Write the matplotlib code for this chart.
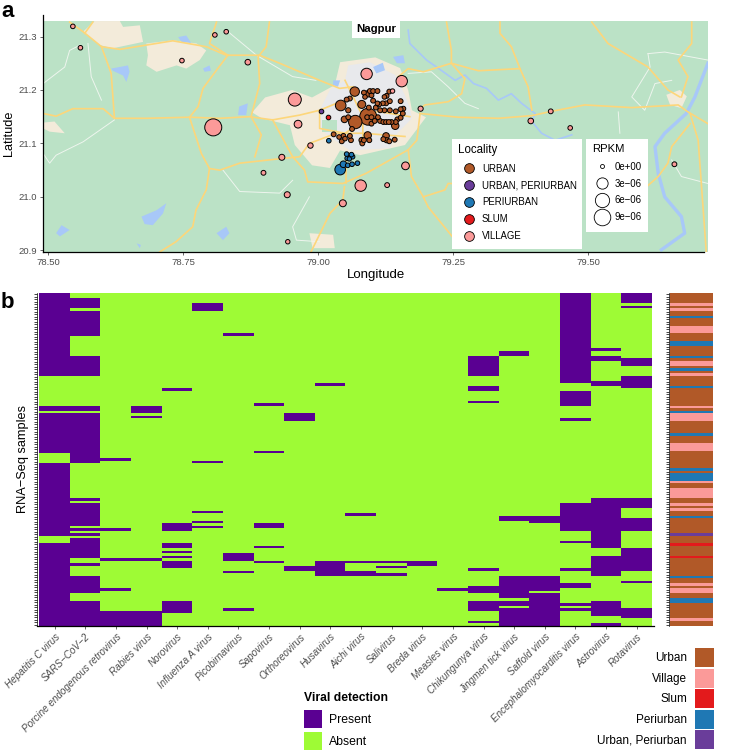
import numpy as np
import matplotlib
matplotlib.use("Agg")
import matplotlib.pyplot as plt
from matplotlib.colors import ListedColormap
from matplotlib.lines import Line2D
from matplotlib.patches import Patch, Polygon, Rectangle

plt.rcParams['font.family'] = ['Liberation Sans', 'DejaVu Sans']

# ---------------- panel a : samples ----------------
urban_lon = [79.093, 79.069, 79.042, 79.068, 79.081, 79.143, 79.092, 79.126, 79.049, 79.093,
             79.085, 79.096, 79.102, 79.110, 79.099, 79.059, 79.053, 79.087, 79.102, 79.127,
             79.132, 79.123, 79.133, 79.126, 79.120, 79.113, 79.107, 79.110, 79.153, 79.094,
             79.056, 79.115, 79.123, 79.133, 79.144, 79.153, 79.158, 79.157, 79.153, 79.147,
             79.144, 79.136, 79.131, 79.126, 79.121, 79.115, 79.111, 79.105, 79.099, 79.091,
             79.099, 79.056, 79.063, 79.029, 79.039, 79.047, 79.059, 79.044, 79.050, 79.061,
             79.081, 79.085, 79.082, 79.095, 79.121, 79.132, 79.142, 79.127]
urban_lat = [21.150, 21.140, 21.171, 21.197, 21.173, 21.133, 21.115, 21.114, 21.145, 21.193,
             21.195, 21.198, 21.198, 21.198, 21.190, 21.184, 21.182, 21.187, 21.180, 21.189,
             21.197, 21.187, 21.179, 21.175, 21.175, 21.173, 21.167, 21.175, 21.179, 21.167,
             21.162, 21.162, 21.162, 21.162, 21.160, 21.164, 21.165, 21.156, 21.148, 21.145,
             21.140, 21.140, 21.140, 21.140, 21.140, 21.142, 21.149, 21.142, 21.149, 21.149,
             21.137, 21.149, 21.127, 21.117, 21.112, 21.114, 21.114, 21.104, 21.109, 21.106,
             21.106, 21.106, 21.100, 21.106, 21.108, 21.104, 21.107, 21.106]
urban_rpkm = [9.6, 5.0, 2.47, 1.65, 0.91, 0.66, 0.66, 0.38, 0.38, 0.38,
              .04, .04, .04, .04, .04, .04, .04, .02, .04, .04,
              .04, .02, .04, .04, .04, .04, .04, .02, .04, .04,
              .08, .04, .04, .04, .04, .04, .04, .04, .04, .04,
              .04, .04, .04, .04, .04, .04, .04, .04, .04, .04,
              .04, .04, .04, .04, .02, .04, .04, .04, .02, .04,
              .15, .04, .04, .04, .04, .04, .04, .08]

village_lon = [78.546, 78.560, 78.748, 78.809, 78.830, 78.870, 78.957, 78.806, 78.963, 78.986,
               78.933, 78.899, 78.943, 78.944, 79.046, 79.079, 79.090, 79.155, 79.138, 79.190,
               79.431, 79.394, 79.467, 79.162, 79.128, 79.660]
village_lat = [21.319, 21.279, 21.255, 21.303, 21.309, 21.252, 21.182, 21.130, 21.136, 21.096,
               21.074, 21.045, 21.004, 20.916, 20.988, 21.021, 21.230, 21.2165, 21.198, 21.165,
               21.160, 21.142, 21.129, 21.058, 21.022, 21.061]
village_rpkm = [.02, .02, .02, .02, .02, .15, 4.6, 9.6, .8, .11,
                .23, .04, .23, .01, .5, 3.1, 3.1, 3.1, .01, .08,
                .04, .15, .02, .8, .04, .04]

periurban_lon = [79.020, 79.053, 79.062, 79.054, 79.064, 79.058, 79.047, 79.041, 79.055, 79.063, 79.073]
periurban_lat = [21.105, 21.080, 21.079, 21.072, 21.075, 21.071, 21.061, 21.051, 21.059, 21.061, 21.063]
periurban_rpkm = [.02, .02, .02, .02, .02, .01, .38, 2.47, .02, .02, .02]

slum_lon = [79.018]
slum_lat = [21.150]
slum_rpkm = [.02]

urban_peri_lon = [79.006]
urban_peri_lat = [21.161]
urban_peri_rpkm = [.02]

legend_rpkm = [0, 3, 6, 9]
legend_rpkm_labels = ['0e+00', '3e\u221206', '6e\u221206', '9e\u221206']
locality_labels = ['URBAN', 'URBAN, PERIURBAN', 'PERIURBAN', 'SLUM', 'VILLAGE']

# ---------------- panel a : base map (lon, lat) ----------------
beige_areas = [
    [(78.565, 21.309), (78.586, 21.329), (78.633, 21.329), (78.639, 21.318), (78.670, 21.321),
     (78.676, 21.290), (78.620, 21.278), (78.596, 21.284)],
    [(78.682, 21.287), (78.731, 21.293), (78.775, 21.287), (78.793, 21.274), (78.781, 21.256),
     (78.756, 21.240), (78.738, 21.246), (78.701, 21.234), (78.682, 21.246), (78.685, 21.265)],
    [(78.491, 21.139), (78.512, 21.141), (78.531, 21.119), (78.503, 21.122), (78.491, 21.128)],
    [(78.878, 21.158), (78.902, 21.186), (78.952, 21.200), (78.989, 21.186), (79.031, 21.209),
     (79.041, 21.252), (79.106, 21.261), (79.152, 21.241), (79.167, 21.200), (79.174, 21.162),
     (79.200, 21.149), (79.161, 21.097), (79.078, 21.078), (79.041, 21.087), (79.022, 21.054),
     (78.989, 21.059), (78.957, 21.097), (78.948, 21.134), (78.896, 21.147)],
    [(79.645, 21.191), (79.670, 21.200), (79.683, 21.188), (79.673, 21.166), (79.652, 21.172)],
    [(78.984, 20.932), (79.028, 20.929), (79.031, 20.904), (78.990, 20.904)],
]
city_area = [(79.003, 21.162), (79.022, 21.200), (79.050, 21.218), (79.056, 21.246), (79.096, 21.252),
             (79.143, 21.228), (79.161, 21.190), (79.170, 21.166), (79.174, 21.147), (79.143, 21.115),
             (79.133, 21.091), (79.059, 21.087), (79.031, 21.106), (79.003, 21.128)]
city_green = [(79.007, 21.144), (79.036, 21.144), (79.036, 21.122), (79.007, 21.122)]
lakes = [
    [(78.673, 20.963), (78.701, 20.975), (78.719, 20.988), (78.713, 20.969), (78.694, 20.947), (78.679, 20.949)],
    [(78.617, 21.240), (78.648, 21.246), (78.651, 21.234), (78.645, 21.215), (78.639, 21.227), (78.620, 21.236)],
    [(78.741, 21.299), (78.756, 21.302), (78.765, 21.288), (78.747, 21.290)],
    [(78.787, 21.240), (78.799, 21.246), (78.802, 21.236), (78.790, 21.234)],
    [(78.854, 21.169), (78.870, 21.175), (78.867, 21.153), (78.852, 21.153)],
    [(78.515, 20.932), (78.525, 20.947), (78.540, 20.938), (78.522, 20.926)],
    [(78.812, 20.932), (78.830, 20.944), (78.836, 20.932), (78.824, 20.919)],
    [(78.664, 20.913), (78.672, 20.910), (78.670, 20.904)],
    [(79.102, 21.243), (79.120, 21.251), (79.124, 21.237), (79.108, 21.231)],
    [(79.139, 21.262), (79.158, 21.265), (79.161, 21.250), (79.146, 21.250)],
    [(79.028, 21.218), (79.041, 21.218), (79.037, 21.206), (79.028, 21.209)],
]
river_north = [(79.167, 21.312), (79.170, 21.287), (79.201, 21.256), (79.232, 21.234), (79.254, 21.218),
               (79.272, 21.228), (79.288, 21.212), (79.312, 21.203), (79.334, 21.181), (79.358, 21.193),
               (79.377, 21.175), (79.402, 21.156), (79.396, 21.141), (79.414, 21.119), (79.439, 21.106),
               (79.470, 21.116)]
river_east = [(79.722, 21.250), (79.698, 21.187), (79.682, 21.156), (79.642, 21.119), (79.624, 21.094),
              (79.630, 21.044), (79.642, 21.000), (79.673, 20.963), (79.679, 20.932), (79.636, 20.901)]
main_roads = [
    [(78.491, 21.156), (78.515, 21.151), (78.546, 21.165), (78.602, 21.165), (78.623, 21.147), (78.682, 21.147),
     (78.762, 21.149), (78.818, 21.147), (78.873, 21.150), (78.916, 21.144), (78.966, 21.153), (79.003, 21.162),
     (79.034, 21.175), (79.058, 21.181)],
    [(78.540, 21.327), (78.565, 21.309), (78.599, 21.281), (78.633, 21.276), (78.731, 21.292), (78.793, 21.281),
     (78.830, 21.265), (78.892, 21.265), (78.929, 21.250), (79.003, 21.218), (79.040, 21.203), (79.065, 21.206)],
    [(78.599, 21.281), (78.617, 21.231), (78.623, 21.147)],
    [(78.583, 21.327), (78.568, 21.306)],
    [(78.812, 21.327), (78.799, 21.287), (78.833, 21.265)],
    [(78.910, 21.327), (78.904, 21.281), (78.889, 21.262), (78.892, 21.212), (78.876, 21.150), (78.895, 21.116),
     (78.883, 21.075)],
    [(78.833, 21.265), (78.812, 21.237), (78.787, 21.203), (78.778, 21.169), (78.762, 21.149), (78.784, 21.081),
     (78.799, 21.053), (78.818, 21.050), (78.855, 21.063), (78.935, 21.072), (78.966, 21.075), (78.984, 21.100),
     (79.034, 21.119), (79.083, 21.119), (79.161, 21.113)],
    [(78.799, 21.053), (78.793, 21.013), (78.774, 20.975), (78.768, 20.944), (78.737, 20.916), (78.707, 20.897)],
    [(78.916, 21.144), (78.953, 21.075), (78.975, 21.050), (78.981, 21.028), (79.046, 21.025), (79.089, 21.044),
     (79.167, 21.088), (79.183, 21.106), (79.189, 21.156)],
    [(79.049, 21.019), (79.046, 20.994), (79.022, 20.969), (78.987, 20.897)],
    [(79.052, 21.075), (79.052, 21.025)],
    [(79.189, 21.156), (79.260, 21.149), (79.334, 21.147), (79.396, 21.152), (79.432, 21.160), (79.494, 21.172),
     (79.581, 21.167), (79.667, 21.172), (79.685, 21.159), (79.722, 21.137)],
    [(79.238, 21.327), (79.247, 21.274), (79.247, 21.250), (79.195, 21.234), (79.167, 21.240), (79.149, 21.225)],
    [(79.247, 21.250), (79.272, 21.221), (79.266, 21.193), (79.241, 21.178), (79.198, 21.172), (79.189, 21.165)],
    [(79.247, 21.250), (79.297, 21.236), (79.374, 21.240), (79.389, 21.206), (79.396, 21.162)],
    [(79.337, 21.327), (79.337, 21.306), (79.358, 21.281), (79.374, 21.240)],
    [(79.507, 21.327), (79.537, 21.287), (79.611, 21.243), (79.648, 21.200), (79.670, 21.187)],
    [(79.692, 21.327), (79.692, 21.287), (79.667, 21.256), (79.685, 21.225), (79.673, 21.187)],
    [(79.689, 21.156), (79.704, 21.106), (79.719, 20.897)],
    [(79.689, 21.137), (79.655, 21.094), (79.648, 21.063), (79.630, 21.038), (79.587, 21.000)],
    [(79.167, 21.088), (79.173, 21.038), (79.195, 21.000), (79.204, 20.981), (79.254, 20.919)],
    [(79.195, 21.000), (79.235, 21.013), (79.241, 21.025), (79.272, 21.025)],
    [(79.003, 21.162), (79.003, 21.128), (79.050, 21.119), (79.110, 21.160), (79.170, 21.150)],
    [(79.050, 21.218), (79.083, 21.150), (79.083, 21.100)],
]
minor_roads = [
    [(78.491, 21.212), (78.531, 21.243), (78.540, 21.274), (78.559, 21.284)],
    [(78.574, 21.287), (78.580, 21.225), (78.599, 21.181)],
    [(78.491, 21.081), (78.503, 21.063), (78.515, 21.078), (78.565, 21.103), (78.623, 21.144)],
    [(78.824, 21.050), (78.855, 21.010), (78.929, 21.007), (78.953, 21.031)],
    [(78.984, 21.000), (78.953, 20.944), (78.960, 20.919), (79.003, 20.916)],
    [(79.611, 21.268), (79.615, 21.243), (79.581, 21.187), (79.605, 21.162), (79.624, 21.212), (79.655, 21.218)],
    [(79.611, 21.268), (79.642, 21.271), (79.722, 21.256)],
    [(78.830, 21.312), (78.886, 21.265), (78.953, 21.225), (78.996, 21.218)],
    [(79.167, 21.231), (79.210, 21.234), (79.241, 21.206), (79.272, 21.175), (79.297, 21.165)],
    [(79.655, 21.069), (79.673, 21.038), (79.722, 21.025)],
    [(79.556, 21.159), (79.559, 21.119)],
]

# ---------------- panel b : detection (start row, end row) ----------------
viruses = ['Hepatitis C virus', 'SARS\u2212CoV\u22122', 'Porcine endogenous retrovirus', 'Rabies virus',
           'Norovirus', 'Influenza A virus', 'Picobirnavirus', 'Sapovirus', 'Orthoreovirus', 'Husavirus',
           'Aichi virus', 'Salivirus', 'Breda virus', 'Measles virus', 'Chikungunya virus',
           'Jingmen tick virus', 'Saffold virus', 'Encephalomyocarditis virus', 'Astrovirus', 'Rotavirus']
n_samples = 133
hepc = [(0, 33), (45, 47), (48, 64), (68, 97), (100, 133)]
sars = [(2, 6), (7, 17), (25, 33), (45, 47), (48, 68), (82, 83), (84, 93), (94, 95), (96, 97), (98, 106),
        (108, 109), (113, 120), (123, 133)]
porcine = [(66, 67), (94, 95), (106, 107), (118, 119), (127, 133)]
rabies = [(45, 48), (49, 50), (106, 107), (127, 133)]
noro = [(38, 39), (92, 95), (100, 102), (103, 104), (105, 106), (107, 110), (123, 128)]
flua = [(4, 7), (67, 68), (87, 88), (91, 92), (93, 94)]
picobirna = [(16, 17), (104, 107), (111, 112), (126, 127)]
sapo = [(44, 45), (63, 64), (92, 94), (101, 102), (107, 108)]
orthoreo = [(48, 51), (109, 111)]
husa = [(36, 37), (107, 113)]
aichi = [(88, 89), (107, 108), (111, 113)]
sali = [(107, 108), (109, 110), (112, 113)]
breda = [(107, 109)]
measles = [(118, 119)]
chik = [(25, 33), (37, 39), (43, 44), (110, 111), (117, 120), (123, 127), (131, 132)]
jingmen = [(23, 25), (89, 91), (113, 122), (123, 125), (126, 133)]
saffold = [(89, 92), (113, 119), (120, 133)]
emcv = [(0, 36), (39, 45), (50, 51), (84, 95), (99, 100), (110, 111), (116, 118), (124, 125), (126, 127)]
astro = [(22, 23), (25, 27), (35, 37), (82, 102), (105, 113), (123, 129), (132, 133)]
rota = [(0, 4), (5, 6), (26, 29), (33, 38), (82, 86), (90, 95), (102, 111), (115, 116), (126, 130)]
all_spans = [hepc, sars, porcine, rabies, noro, flua, picobirna, sapo, orthoreo, husa, aichi, sali, breda,
             measles, chik, jingmen, saffold, emcv, astro, rota]

locality_names = ['Urban', 'Village', 'Slum', 'Periurban', 'Urban, Periurban']
# run-length coded sample localities: 0 Urban, 1 Village, 2 Slum, 3 Periurban, 4 Urban+Periurban
anno_codes = [0, 1, 0, 1, 0, 3, 0, 1, 0, 3, 0, 3, 0, 1, 0, 3, 0, 1, 0, 3, 0, 1, 0, 3, 1, 0, 3, 0, 1, 0, 3, 0, 3,
              1, 0, 1, 0, 1, 0, 1, 0, 3, 0, 4, 0, 2, 0, 2, 0, 3, 0, 1, 0, 1, 0, 3, 0, 1, 0]
anno_ends = [4, 5, 6, 7, 9, 10, 13, 16, 19, 21, 25, 26, 27, 29, 30, 31, 32, 33, 37, 38, 45, 46, 47, 48, 51, 56, 57,
             60, 63, 70, 71, 72, 75, 76, 78, 82, 84, 85, 86, 87, 89, 90, 96, 97, 100, 101, 105, 106, 113, 114, 116,
             117, 118, 120, 122, 124, 130, 131, 133]

# ---------------- styles ----------------
W, H = 729, 752
BROWN, PINK, RED, BLUE, VIOLET = '#B15928', '#FB9A99', '#E31A1C', '#1F78B4', '#6A3D9A'
PRESENT, ABSENT = '#5A0092', '#9EFB35'
GRAY = '#4D4D4D'


def fx(x):
    return x / W


def fy(y):
    return 1 - y / H


def rect(x0, y0, x1, y1):
    return [fx(x0), fy(y1), fx(x1) - fx(x0), fy(y0) - fy(y1)]


def radius_px(v):
    return 2 + 6.3 * np.sqrt(np.asarray(v, float) / 9)


def size_pt2(v):
    return (2 * radius_px(v) * 0.72) ** 2


fig = plt.figure(figsize=(W / 100, H / 100), dpi=100, facecolor='white')

# ---- map panel ----
ax = fig.add_axes(rect(43, 15, 708, 252))
LON0, LON1, LAT0, LAT1 = 78.4907, 79.7222, 20.8968, 21.3403
MAP_TOP = 21.3286
ax.set_xlim(LON0, LON1)
ax.set_ylim(LAT0, LAT1)
ax.patch.set_alpha(0)
land = Rectangle((LON0, LAT0), LON1 - LON0, MAP_TOP - LAT0, fc='#BBE2C6', ec='none', zorder=0)
ax.add_patch(land)
clipped = []
for poly in beige_areas:
    clipped.append(ax.add_patch(Polygon(poly, fc='#F3EBDA', ec='none', zorder=1)))
clipped.append(ax.add_patch(Polygon(city_area, fc='#E8E9EC', ec='none', zorder=1.1)))
clipped.append(ax.add_patch(Polygon(city_green, fc='#BBE2C6', ec='none', zorder=1.2)))
for poly in lakes:
    clipped.append(ax.add_patch(Polygon(poly, fc='#A8C8F8', ec='none', zorder=1.3)))
for path, lw in ((river_north, 1.2), (river_east, 2.4)):
    a = np.array(path)
    clipped += ax.plot(a[:, 0], a[:, 1], color='#A8C8F8', lw=lw, zorder=1.4, solid_joinstyle='round')
for path in minor_roads:
    a = np.array(path)
    clipped += ax.plot(a[:, 0], a[:, 1], color='#EEF5EE', lw=0.7, zorder=1.5)
for path in main_roads:
    a = np.array(path)
    clipped += ax.plot(a[:, 0], a[:, 1], color='#FDD67A', lw=1.2, zorder=1.6, solid_joinstyle='round')
for art in clipped:
    art.set_clip_path(land)

layers = [(urban_lon, urban_lat, urban_rpkm, BROWN), (urban_peri_lon, urban_peri_lat, urban_peri_rpkm, VIOLET),
          (periurban_lon, periurban_lat, periurban_rpkm, BLUE), (slum_lon, slum_lat, slum_rpkm, RED),
          (village_lon, village_lat, village_rpkm, PINK)]
for lon, lat, val, col in layers:
    order = np.argsort(val)[::-1]
    ax.scatter(np.array(lon)[order], np.array(lat)[order], s=size_pt2(np.array(val)[order]), c=col,
               edgecolors='black', linewidths=0.7, zorder=3)

ax.text(79.1075, 21.3140, 'Nagpur', fontsize=8.2, fontweight='bold', ha='center', va='center', zorder=4,
        bbox=dict(fc='white', ec='none', boxstyle='square,pad=0.32'))

ax.set_xticks([78.5, 78.75, 79.0, 79.25, 79.5], ['78.50', '78.75', '79.00', '79.25', '79.50'])
ax.set_yticks([20.9, 21.0, 21.1, 21.2, 21.3], ['20.9', '21.0', '21.1', '21.2', '21.3'])
ax.tick_params(labelsize=6.8, colors=GRAY, length=2.2, width=0.6, pad=2.2)
ax.set_xlabel('Longitude', fontsize=9.5, labelpad=1.5)
ax.set_ylabel('Latitude', fontsize=9.2, labelpad=2)
for s in ('top', 'right'):
    ax.spines[s].set_visible(False)
ax.spines['bottom'].set_bounds(LON0, 79.715)
ax.spines['bottom'].set_linewidth(0.9)
ax.spines['left'].set_linewidth(0.9)

ax.add_patch(Rectangle((fx(452.3), fy(249.3)), fx(582) - fx(452.3), fy(138.7) - fy(249.3), transform=fig.transFigure,
                       fc='white', ec='none', zorder=5))
ax.add_patch(Rectangle((fx(585.7), fy(232)), fx(648) - fx(585.7), fy(138.7) - fy(232), transform=fig.transFigure,
                       fc='white', ec='none', zorder=5))
loc_handles = [Line2D([], [], ls='none', marker='o', ms=7.0, mfc=c, mec='black', mew=0.6)
               for c in (BROWN, VIOLET, BLUE, RED, PINK)]
leg1 = ax.legend(loc_handles, locality_labels, title='Locality', fontsize=6.9, title_fontsize=8.3,
                 loc='upper left', bbox_to_anchor=(fx(458), fy(143.5)), bbox_transform=fig.transFigure,
                 frameon=False, borderpad=0, borderaxespad=0, handlelength=2.23, handletextpad=0.27,
                 labelspacing=0.71, alignment='left')
leg1.set_zorder(6)
leg1._legend_box.sep = 6
ax.add_artist(leg1)
rp_handles = [Line2D([], [], ls='none', marker='o', ms=2 * radius_px(v) * 0.72, mfc='white', mec='black', mew=0.6)
              for v in legend_rpkm]
leg2 = ax.legend(rp_handles, legend_rpkm_labels, title='RPKM', fontsize=6.9, title_fontsize=8.15,
                 loc='upper left', bbox_to_anchor=(fx(591.7), fy(143.5)), bbox_transform=fig.transFigure,
                 frameon=False, borderpad=0, borderaxespad=0, handlelength=2.05, handletextpad=0.3,
                 labelspacing=0.71, alignment='left')
leg2.set_zorder(6)
leg2._legend_box.sep = 6

fig.text(fx(1), fy(11.5), 'a', fontsize=16, fontweight='bold', va='center', ha='left')
fig.text(fx(1), fy(302.5), 'b', fontsize=16, fontweight='bold', va='center', ha='left')

# ---- heatmap panel ----
detect = np.zeros((n_samples, len(viruses)))
for col, spans in enumerate(all_spans):
    for r0, r1 in spans:
        detect[r0:r1, col] = 1
hx = fig.add_axes(rect(37, 293, 654, 625.8))
hx.imshow(detect, cmap=ListedColormap([ABSENT, PRESENT]), vmin=0, vmax=1, aspect='auto', interpolation='nearest',
          extent=(0, len(viruses), n_samples, 0))
hx.set_xlim(-2.3 / 30.63, len(viruses) + 2 / 30.63)
hx.set_ylim(n_samples, 0)
hx.set_xticks(np.arange(len(viruses)) + 0.5)
hx.set_xticklabels(viruses, rotation=45, ha='right', va='top', rotation_mode='anchor', fontsize=7.15,
                   style='italic', color=GRAY)
hx.set_yticks(np.arange(n_samples) + 0.5, [])
hx.tick_params(axis='x', length=2.2, width=0.6, color=GRAY, pad=2)
hx.tick_params(axis='y', length=2.2, width=0.7, color='#444444')
hx.set_ylabel('RNA\u2212Seq samples', fontsize=9.2)
hx.yaxis.set_label_coords(-0.013, 0.5)
for s in ('top', 'right'):
    hx.spines[s].set_visible(False)
hx.spines['left'].set_linewidth(0.5)
hx.spines['bottom'].set_linewidth(0.9)

leg3 = fig.legend([Patch(fc=PRESENT, ec='none'), Patch(fc=ABSENT, ec='none')], ['Present', 'Absent'],
                  title='Viral detection', title_fontproperties={'size': 8.7, 'weight': 'bold'}, fontsize=8.8,
                  loc='upper left', bbox_to_anchor=(fx(304), fy(692)), bbox_transform=fig.transFigure,
                  frameon=False, borderpad=0, borderaxespad=0, handlelength=1.44, handleheight=1.84,
                  handletextpad=0.64, labelspacing=0.36, alignment='left')
leg3._legend_box.sep = 4.5

# ---- locality annotation bar ----
lengths = np.diff([0] + anno_ends)
anno = np.repeat(anno_codes, lengths).reshape(-1, 1)
bx = fig.add_axes(rect(669, 293, 712, 625.8))
bx.imshow(anno, cmap=ListedColormap([BROWN, PINK, RED, BLUE, VIOLET]), vmin=0, vmax=4, aspect='auto',
          interpolation='nearest', extent=(0, 1, n_samples, 0))
bx.set_xlim(-0.02, 1)
bx.set_ylim(n_samples, 0)
bx.set_xticks([])
bx.set_yticks(np.arange(n_samples) + 0.5, [])
bx.tick_params(axis='y', length=2.2, width=0.7, color='#444444')
for s in ('top', 'right', 'bottom'):
    bx.spines[s].set_visible(False)
bx.spines['left'].set_linewidth(0.5)

leg4 = fig.legend([Patch(fc=c, ec='none') for c in (BROWN, PINK, RED, BLUE, VIOLET)], locality_names, fontsize=8.5,
                  loc='upper right', bbox_to_anchor=(fx(714), fy(648)), bbox_transform=fig.transFigure,
                  frameon=False, borderpad=0, borderaxespad=0, handlelength=1.58, handleheight=2.1,
                  handletextpad=0.71, labelspacing=0.133, markerfirst=False)

fig.savefig('out.png', dpi=100)
